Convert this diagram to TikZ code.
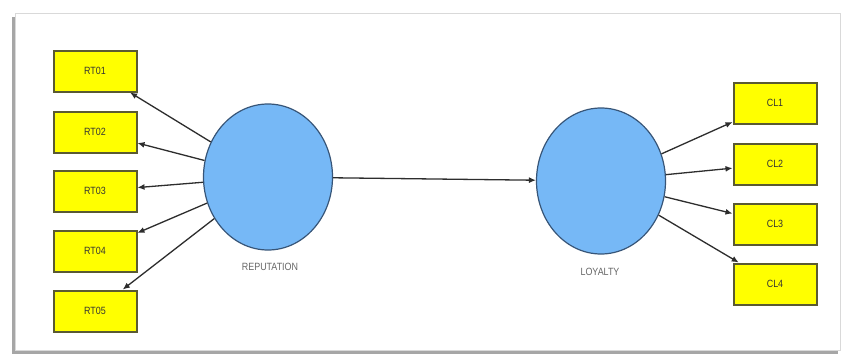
\documentclass[tikz,border=0pt]{standalone}
\usepackage{fontspec}
\setmainfont{Liberation Sans}
\newfontfamily\narrowfont[FakeStretch=0.85]{Liberation Sans}
\usetikzlibrary{shapes.geometric,arrows.meta}

\definecolor{boxyellow}{RGB}{255,255,0}
\definecolor{boxline}{RGB}{90,90,50}
\definecolor{latentblue}{RGB}{118,184,246}
\definecolor{latentline}{RGB}{55,85,120}
\definecolor{arrowgray}{RGB}{45,45,45}

\tikzset{
  indicator/.style={rectangle, draw=boxline, fill=boxyellow, line width=2pt,
    minimum width=83pt, minimum height=41pt, inner sep=0pt,
    font=\narrowfont\fontsize{10.5}{12}\selectfont, text=black!80},
  latent/.style={ellipse, draw=latentline, fill=latentblue, line width=1.2pt,
    minimum width=129pt, minimum height=146pt, inner sep=0pt},
  latentname/.style={font=\narrowfont\fontsize{10.5}{12}\selectfont, text=black!60},
  path arrow/.style={draw=arrowgray, line width=1.3pt, -{Latex[length=7pt,width=6pt]}}
}

\begin{document}
\begin{tikzpicture}[x=1pt,y=-1pt]
    \useasboundingbox (0,0) rectangle (852,364);

    % Draw frame
    \fill[black!35] (12,17) rectangle (838,354);
    \draw[black!15, fill=white, line width=0.8pt] (15,13) rectangle (840,350);

    % Draw latent variables
    \node[latent] (rep) at (268,177) {};
    \node[latent] (loy) at (601,181) {};
    \node[latentname] (replabel) at (270,267) {REPUTATION};
    \node[latentname] (loylabel) at (600,272) {LOYALTY};

    % Draw indicators
    \node[indicator] (rt1) at (95,71) {RT01};
    \node[indicator] (rt2) at (95,132) {RT02};
    \node[indicator] (rt3) at (95,191) {RT03};
    \node[indicator] (rt4) at (95,251) {RT04};
    \node[indicator] (rt5) at (95,311) {RT05};

    \node[indicator] (cl1) at (775,103) {CL1};
    \node[indicator] (cl2) at (775,164) {CL2};
    \node[indicator] (cl3) at (775,224) {CL3};
    \node[indicator] (cl4) at (775,284) {CL4};

    % Draw directed edges
    \foreach \i in {1,...,5}
        \draw[path arrow] (rep) -- (rt\i);
    \foreach \i in {1,...,4}
        \draw[path arrow] (loy) -- (cl\i);
    \draw[path arrow] (rep) -- (loy);
\end{tikzpicture}
\end{document}
